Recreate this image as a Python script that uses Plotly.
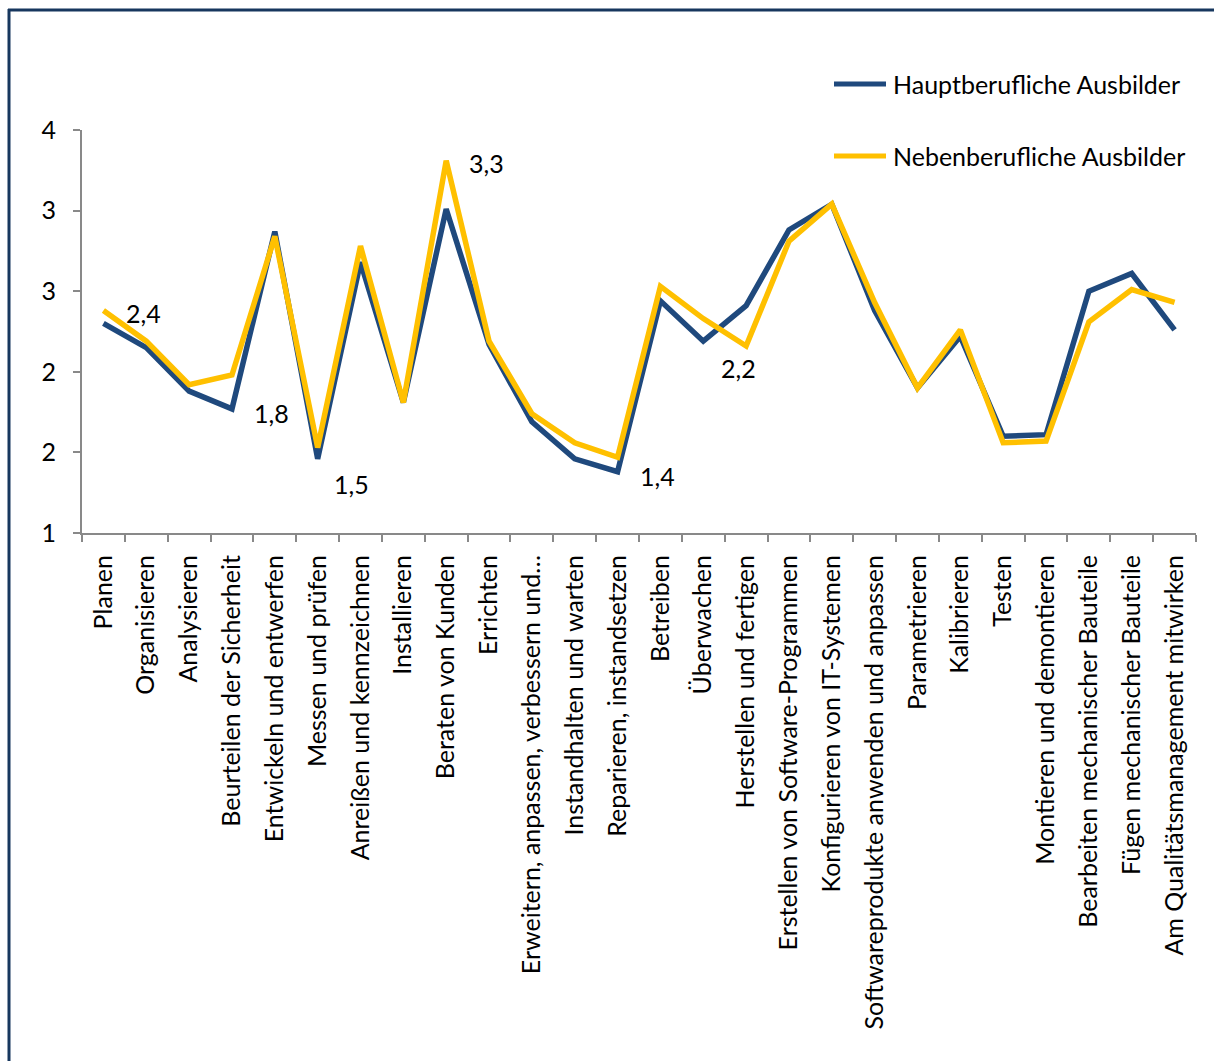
import plotly.graph_objects as go

# Tätigkeitsfelder (x-axis categories)
categories = [
    "Planen", "Organisieren", "Analysieren", "Beurteilen der Sicherheit",
    "Entwickeln und entwerfen", "Messen und prüfen", "Anreißen und kennzeichnen",
    "Installieren", "Beraten von Kunden", "Errichten",
    "Erweitern, anpassen, verbessern und…", "Instandhalten und warten",
    "Reparieren, instandsetzen", "Betreiben", "Überwachen", "Herstellen und fertigen",
    "Erstellen von Software-Programmen", "Konfigurieren von IT-Systemen",
    "Softwareprodukte anwenden und anpassen", "Parametrieren", "Kalibrieren",
    "Testen", "Montieren und demontieren", "Bearbeiten mechanischer Bauteile",
    "Fügen mechanischer Bauteile", "Am Qualitätsmanagement mitwirken",
]

hauptberuflich = [2.30, 2.15, 1.88, 1.77, 2.87, 1.46, 2.68, 1.81, 3.01, 2.17,
                  1.69, 1.46, 1.38, 2.44, 2.19, 2.41, 2.88, 3.04, 2.38, 1.90,
                  2.22, 1.60, 1.61, 2.50, 2.61, 2.26]
nebenberuflich = [2.38, 2.19, 1.92, 1.98, 2.84, 1.53, 2.78, 1.81, 3.31, 2.19,
                  1.74, 1.56, 1.47, 2.53, 2.33, 2.16, 2.81, 3.04, 2.43, 1.90,
                  2.26, 1.56, 1.57, 2.31, 2.51, 2.43]

series_names = ["Hauptberufliche Ausbilder", "Nebenberufliche Ausbilder"]

# y-axis ticks (labels rounded to whole numbers)
y_tickvals = [1.0, 1.5, 2.0, 2.5, 3.0, 3.5]
y_ticktext = ["1", "2", "2", "3", "3", "4"]

# labelled points: (series index, category index, x shift, y shift)
labelled = [(1, 0, 40, -2), (0, 3, 40, -4), (0, 5, 34, -25),
            (1, 8, 40, -2), (0, 12, 40, -4), (1, 15, -8, -22)]

BLUE = "#1F497D"
GOLD = "#FFC000"
FONT = "Lato"
FS = 25

W, H = 1214, 1061
L, R, T, B = 82, 18, 130, 528
pw, ph = W - L - R, H - T - B


def px(x):
    return (x - L) / pw


def py(y):
    return (H - B - y) / ph


fig = go.Figure()
for name, vals, col in [(series_names[0], hauptberuflich, BLUE),
                        (series_names[1], nebenberuflich, GOLD)]:
    fig.add_trace(go.Scatter(
        x=categories, y=vals, mode="lines", name=name,
        line=dict(color=col, width=5.5), showlegend=False,
    ))

data = [hauptberuflich, nebenberuflich]
for s, i, dx, dy in labelled:
    v = data[s][i]
    fig.add_annotation(
        x=categories[i], y=v, xref="x", yref="y",
        text=f"{v:.1f}".replace(".", ","), showarrow=False,
        xshift=dx, yshift=dy, font=dict(family=FONT, size=FS, color="black"),
    )

# legend drawn as sample lines with labels
for name, col, ly in [(series_names[0], BLUE, 84), (series_names[1], GOLD, 156)]:
    fig.add_shape(type="line", xref="paper", yref="paper",
                  x0=px(834), x1=px(886), y0=py(ly), y1=py(ly),
                  line=dict(color=col, width=5))
    fig.add_annotation(x=px(891), y=py(ly), xref="paper", yref="paper",
                       text=name, showarrow=False, xanchor="left", yanchor="middle",
                       font=dict(family=FONT, size=FS, color="black"))

# outer frame (top and left edges fall inside the page)
FRAME = "#17375E"
fig.add_shape(type="line", xref="paper", yref="paper",
              x0=px(8), x1=px(1300), y0=py(10), y1=py(10),
              line=dict(color=FRAME, width=3), layer="below")
fig.add_shape(type="line", xref="paper", yref="paper",
              x0=px(9), x1=px(9), y0=py(9), y1=py(1200),
              line=dict(color=FRAME, width=3), layer="below")

fig.update_layout(
    width=W, height=H,
    margin=dict(l=L, r=R, t=T, b=B),
    paper_bgcolor="white", plot_bgcolor="white",
    font=dict(family=FONT, size=FS, color="black"),
    xaxis=dict(
        type="category", tickangle=-90, showgrid=False,
        showline=True, linecolor="#898989", linewidth=2,
        ticks="outside", ticklen=7, tickcolor="#898989", tickwidth=1.5,
        tickson="boundaries", ticklabelstandoff=10,
        range=[-0.5, len(categories) - 0.5],
    ),
    yaxis=dict(
        range=[1, 3.5], tickvals=y_tickvals, ticktext=y_ticktext,
        showgrid=False, zeroline=False,
        showline=True, linecolor="#898989", linewidth=2,
        ticks="outside", ticklen=7, tickcolor="#898989", tickwidth=1.5,
        ticklabelstandoff=12,
    ),
)

fig.write_html("out.html", config={"displayModeBar": False})
